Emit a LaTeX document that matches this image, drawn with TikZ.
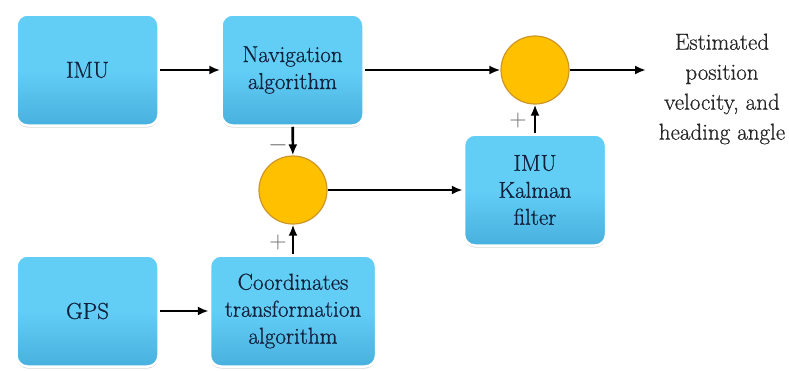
\documentclass[tikz,border=0pt]{standalone}
\usepackage{fontspec}
\newfontfamily\diagfont[FakeBold=0.7]{Latin Modern Roman}
\usepackage{xcolor}
\usepackage{tikz}
\usetikzlibrary{arrows.meta,positioning,shadows}

\definecolor{boxtop}{RGB}{98,206,246}
\definecolor{boxbot}{RGB}{72,176,222}
\definecolor{boxtext}{RGB}{18,32,58}
\definecolor{sumfill}{RGB}{255,192,0}
\definecolor{sumline}{RGB}{205,150,40}

\begin{document}
\begin{tikzpicture}[
  x=1pt, y=-1pt,
  box/.style={
    draw=white,
    line width=2.5pt,
    rounded corners=11pt,
    align=center,
    minimum width=142pt,
    minimum height=111pt,
    top color=boxtop,
    bottom color=boxbot,
    middle color=boxtop,
    text=boxtext,
    font=\diagfont\fontsize{23}{27}\selectfont,
    drop shadow={opacity=0.3,shadow xshift=0pt,shadow yshift=-2pt}
  },
  sum/.style={
    circle,
    draw=sumline,
    line width=1.2pt,
    fill=sumfill,
    minimum size=68pt,
    inner sep=0pt
  },
  sign/.style={text=gray!80!black,font=\fontsize{24}{24}\selectfont,inner sep=0pt},
  arrow/.style={-{Latex[length=11pt,width=9pt]},line width=2.6pt}
]
  \useasboundingbox (0,0) rectangle (789,370);

  \node[box] (imu) at (87.5,70) {IMU};
  \node[box] (nav) at (292.5,70) {Navigation\\algorithm};
  \node[box] (gps) at (87.5,311) {GPS};
  \node[box,minimum width=166pt] (coord) at (293,311) {Coordinates\\transformation\\algorithm};
  \node[box] (kal) at (535,190) {IMU\\Kalman\\filter};

  \node[sum] (sumB) at (293,190) {};
  \node[sum] (sumA) at (535,70) {};

  \node[align=center,text=black!85,font=\diagfont\fontsize{23}{30}\selectfont] (out) at (722,89)
    {Estimated\\position\\velocity, and\\heading angle};
  \coordinate (outtip) at (646,70);

  \node[sign] (minus) at (278,145) {$-$};
  \node[sign] (plusB) at (278,243) {+};
  \node[sign] (plusA) at (518,121) {+};

  \draw[arrow] (imu) -- (nav);
  \draw[arrow] (nav) -- (sumA);
  \draw[arrow] (sumA) -- (outtip);
  \draw[arrow] (nav) -- (sumB);
  \draw[arrow] (sumB) -- (kal);
  \draw[arrow] (kal) -- (sumA);
  \draw[arrow] (gps) -- (coord);
  \draw[arrow] (coord) -- (sumB);
\end{tikzpicture}
\end{document}
